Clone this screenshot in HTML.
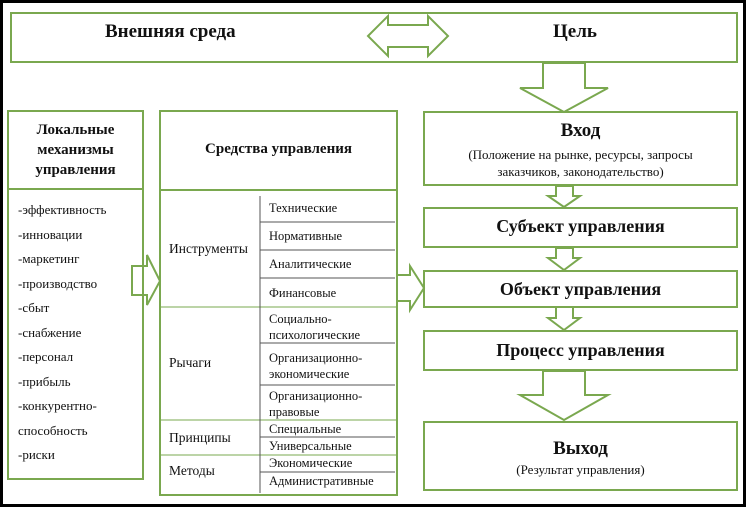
<!DOCTYPE html><html><head><meta charset="utf-8"><style>
body{margin:0;width:746px;height:507px;background:#000;overflow:hidden;font-family:"Liberation Serif",serif}
#c{position:absolute;left:3px;top:3px;width:740px;height:501px;background:#fff}
.t{position:absolute;color:#111;text-align:center;white-space:nowrap}
.b{font-weight:bold}
</style></head><body><div id="c"></div>
<svg width="746" height="507" style="position:absolute;left:0;top:0" fill="none" stroke="#7aa84f" stroke-width="2">
<rect x="11" y="13" width="726" height="49"/>
<polygon points="368,36 388,16 388,25 428,25 428,16 448,36 428,56 428,47 388,47 388,56"/>
<polygon points="543,63 585,63 585,88 608,88 564,112 520,88 543,88"/>
<rect x="8" y="111" width="135" height="78"/><rect x="8" y="189" width="135" height="290"/>
<rect x="160" y="111" width="237" height="79"/><rect x="160" y="190" width="237" height="305"/>
<polygon points="132,266 147,266 147,255 160,281 147,305 147,295 132,295"/>
<polygon points="397,275 410,275 410,266 424,288 410,310 410,301 397,301"/>
<rect x="424" y="112" width="313" height="73"/>
<polygon points="556,186 573,186 573,196 580,196 564,207 548,196 556,196"/>
<rect x="424" y="208" width="313" height="39"/>
<polygon points="556,248 573,248 573,258 580,258 564,270 548,258 556,258"/>
<rect x="424" y="271" width="313" height="36"/>
<polygon points="556,307 573,307 573,318 580,318 564,330 548,318 556,318"/>
<rect x="424" y="331" width="313" height="39"/>
<polygon points="543,371 585,371 585,395 608,395 564,420 520,395 543,395"/>
<rect x="424" y="422" width="313" height="68"/>
<g stroke-width="1">
<line x1="160" y1="307" x2="397" y2="307"/><line x1="160" y1="420" x2="397" y2="420"/><line x1="160" y1="455" x2="397" y2="455"/>
</g>
<g stroke="#555" stroke-width="1">
<line x1="260" y1="196" x2="260" y2="493"/>
<line x1="260" y1="222" x2="395" y2="222"/><line x1="260" y1="250" x2="395" y2="250"/><line x1="260" y1="278" x2="395" y2="278"/>
<line x1="260" y1="343" x2="395" y2="343"/><line x1="260" y1="385" x2="395" y2="385"/>
<line x1="260" y1="437" x2="395" y2="437"/><line x1="260" y1="472" x2="395" y2="472"/>
</g></svg>
<div class="t b" style="left:105px;top:21px;font-size:19px">Внешняя среда</div>
<div class="t b" style="left:553px;top:21px;font-size:19px">Цель</div>
<div class="t b" style="left:8px;top:120px;width:135px;font-size:15px;line-height:20px">Локальные<br>механизмы<br>управления</div>
<div class="t" style="left:18px;top:198px;text-align:left;font-size:13px;line-height:24.5px">-эффективность<br>-инновации<br>-маркетинг<br>-производство<br>-сбыт<br>-снабжение<br>-персонал<br>-прибыль<br>-конкурентно-<br>способность<br>-риски</div>
<div class="t b" style="left:160px;top:141px;width:237px;font-size:15px">Средства управления</div>
<div class="t" style="left:169px;top:241px;font-size:13.5px">Инструменты</div>
<div class="t" style="left:169px;top:355px;font-size:13.5px">Рычаги</div>
<div class="t" style="left:169px;top:430px;font-size:13.5px">Принципы</div>
<div class="t" style="left:169px;top:463px;font-size:13.5px">Методы</div>
<div class="t" style="left:269px;top:201px;text-align:left;font-size:12.5px">Технические</div>
<div class="t" style="left:269px;top:229px;text-align:left;font-size:12.5px">Нормативные</div>
<div class="t" style="left:269px;top:257px;text-align:left;font-size:12.5px">Аналитические</div>
<div class="t" style="left:269px;top:286px;text-align:left;font-size:12.5px">Финансовые</div>
<div class="t" style="left:269px;top:311px;text-align:left;font-size:12.5px;line-height:16px">Социально-<br>психологические</div>
<div class="t" style="left:269px;top:350px;text-align:left;font-size:12.5px;line-height:16px">Организационно-<br>экономические</div>
<div class="t" style="left:269px;top:388px;text-align:left;font-size:12.5px;line-height:16px">Организационно-<br>правовые</div>
<div class="t" style="left:269px;top:422px;text-align:left;font-size:12.5px">Специальные</div>
<div class="t" style="left:269px;top:439px;text-align:left;font-size:12.5px">Универсальные</div>
<div class="t" style="left:269px;top:456px;text-align:left;font-size:12.5px">Экономические</div>
<div class="t" style="left:269px;top:474px;text-align:left;font-size:12.5px">Административные</div>
<div class="t b" style="left:424px;top:120px;width:313px;font-size:19px">Вход</div>
<div class="t" style="left:424px;top:146px;width:313px;font-size:13px;line-height:17px">(Положение на рынке, ресурсы, запросы<br>заказчиков, законодательство)</div>
<div class="t b" style="left:424px;top:216px;width:313px;font-size:18px">Субъект управления</div>
<div class="t b" style="left:424px;top:279px;width:313px;font-size:18px">Объект управления</div>
<div class="t b" style="left:424px;top:340px;width:313px;font-size:18px">Процесс управления</div>
<div class="t b" style="left:424px;top:438px;width:313px;font-size:19px">Выход</div>
<div class="t" style="left:424px;top:462px;width:313px;font-size:13px">(Результат управления)</div>
</body></html>
